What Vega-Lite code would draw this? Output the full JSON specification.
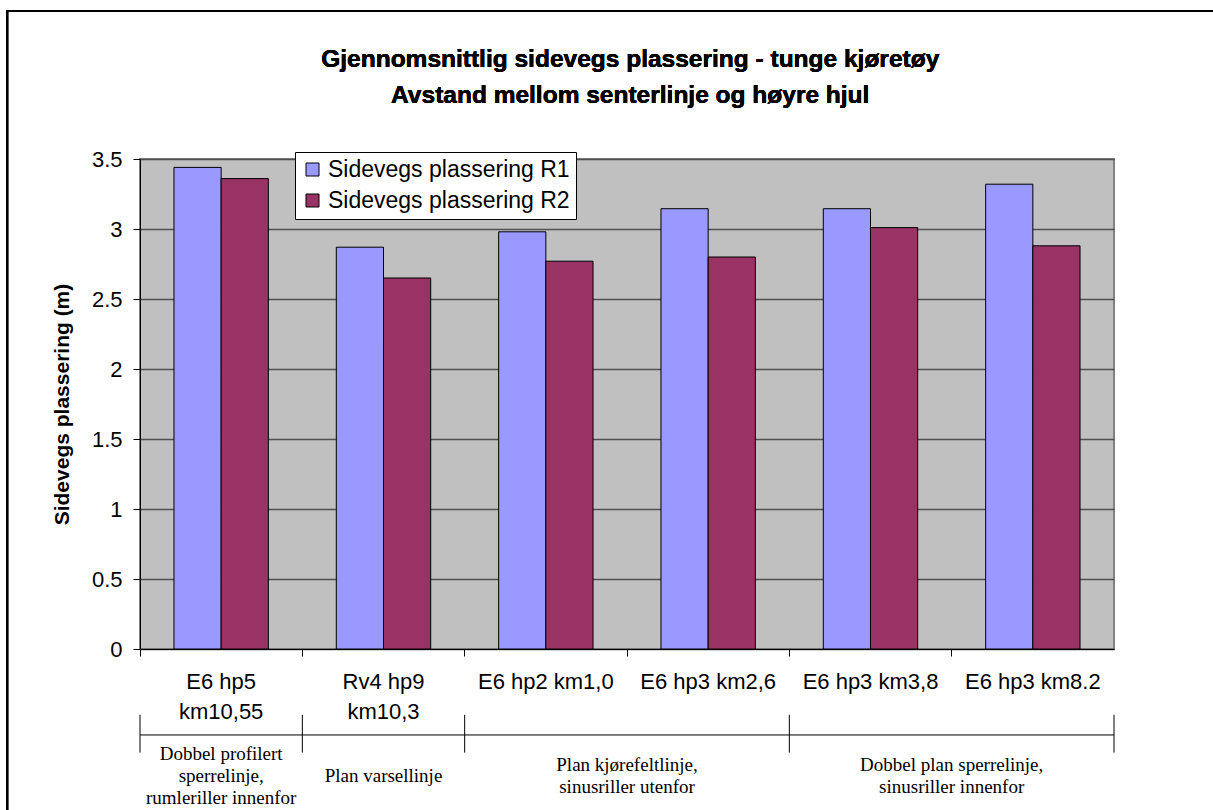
{
  "$schema": "https://vega.github.io/schema/vega-lite/v6.json",
  "width": 974,
  "height": 490,
  "autosize": "none",
  "padding": {"left": 140, "top": 159, "right": 99, "bottom": 161},
  "background": "white",
  "config": {
    "view": {"fill": "#C0C0C0", "stroke": "#808080", "strokeWidth": 2},
    "font": "Liberation Sans"
  },
  "layer": [
    {
      "data": {
        "values": [
          {"site": "E6 hp5|km10,55", "series": "Sidevegs plassering R1", "value": 3.44},
          {"site": "E6 hp5|km10,55", "series": "Sidevegs plassering R2", "value": 3.36},
          {"site": "Rv4 hp9|km10,3", "series": "Sidevegs plassering R1", "value": 2.87},
          {"site": "Rv4 hp9|km10,3", "series": "Sidevegs plassering R2", "value": 2.65},
          {"site": "E6 hp2 km1,0", "series": "Sidevegs plassering R1", "value": 2.98},
          {"site": "E6 hp2 km1,0", "series": "Sidevegs plassering R2", "value": 2.77},
          {"site": "E6 hp3 km2,6", "series": "Sidevegs plassering R1", "value": 3.145},
          {"site": "E6 hp3 km2,6", "series": "Sidevegs plassering R2", "value": 2.80},
          {"site": "E6 hp3 km3,8", "series": "Sidevegs plassering R1", "value": 3.145},
          {"site": "E6 hp3 km3,8", "series": "Sidevegs plassering R2", "value": 3.01},
          {"site": "E6 hp3 km8.2", "series": "Sidevegs plassering R1", "value": 3.32},
          {"site": "E6 hp3 km8.2", "series": "Sidevegs plassering R2", "value": 2.88}
        ]
      },
      "mark": {"type": "bar", "stroke": "black", "strokeWidth": 1},
      "encoding": {
        "x": {
          "field": "site",
          "type": "nominal",
          "sort": null,
          "scale": {"paddingInner": 0, "paddingOuter": 0},
          "axis": {
            "title": null,
            "bandPosition": 0,
            "labelExpr": "split(datum.label, '|')",
            "labelAngle": 0,
            "labelFontSize": 22,
            "labelColor": "black",
            "labelBaseline": "top",
            "labelLineHeight": 30,
            "labelPadding": 15,
            "labelFont": "Liberation Sans",
            "tickSize": 7,
            "tickColor": "black",
            "domainColor": "black",
            "grid": false
          }
        },
        "xOffset": {
          "field": "series",
          "type": "nominal",
          "scale": {"paddingInner": 0, "paddingOuter": 0.72}
        },
        "y": {
          "field": "value",
          "type": "quantitative",
          "scale": {"domain": [0, 3.5], "nice": false},
          "axis": {
            "title": "Sidevegs plassering (m)",
            "titleFontSize": 21,
            "titleFont": "Liberation Sans",
            "titleFontWeight": "bold",
            "titleColor": "black",
            "titlePadding": 19,
            "values": [0, 0.5, 1, 1.5, 2, 2.5, 3, 3.5],
            "format": "~g",
            "labelFontSize": 22,
            "labelColor": "black",
            "labelPadding": 11,
            "tickSize": 7,
            "tickColor": "black",
            "domainColor": "black",
            "grid": true,
            "gridColor": "#505050",
            "gridWidth": 1.5
          }
        },
        "color": {
          "field": "series",
          "type": "nominal",
          "scale": {"range": ["#9999FF", "#993366"]},
          "legend": {
            "title": null,
            "orient": "none",
            "legendX": 155,
            "legendY": -7,
            "fillColor": "white",
            "strokeColor": "black",
            "padding": 6,
            "symbolType": "square",
            "symbolSize": 169,
            "symbolStrokeColor": "black",
            "symbolStrokeWidth": 1,
            "symbolOpacity": 1,
            "labelFontSize": 23,
            "labelColor": "black",
            "labelFont": "Liberation Sans",
            "labelOffset": 4,
            "rowPadding": 7,
            "labelLimit": 400
          }
        }
      }
    },
    {
      "data": {
        "values": [
          {"start": 0, "end": 1, "label": ["Dobbel profilert", "sperrelinje,", "rumleriller innenfor"]},
          {"start": 1, "end": 2, "label": ["Plan varsellinje"]},
          {"start": 2, "end": 4, "label": ["Plan kjørefeltlinje,", "sinusriller utenfor"]},
          {"start": 4, "end": 6, "label": ["Dobbel plan sperrelinje,", "sinusriller innenfor"]}
        ]
      },
      "layer": [
        {
          "mark": {"type": "rule", "color": "black", "strokeWidth": 1},
          "encoding": {
            "x": {"field": "start", "type": "quantitative", "scale": {"domain": [0, 6], "nice": false, "zero": false}, "axis": null},
            "x2": {"field": "end"},
            "y": {"datum": -0.614, "scale": {"domain": [0, 3.5], "nice": false}}
          }
        },
        {
          "mark": {"type": "rule", "color": "black", "strokeWidth": 1},
          "encoding": {
            "x": {"field": "start", "type": "quantitative", "scale": {"domain": [0, 6], "nice": false, "zero": false}, "axis": null},
            "y": {"datum": -0.47, "scale": {"domain": [0, 3.5], "nice": false}},
            "y2": {"datum": -0.74}
          }
        },
        {
          "mark": {"type": "rule", "color": "black", "strokeWidth": 1},
          "transform": [{"filter": "datum.end == 6"}],
          "encoding": {
            "x": {"field": "end", "type": "quantitative", "scale": {"domain": [0, 6], "nice": false, "zero": false}, "axis": null},
            "y": {"datum": -0.47, "scale": {"domain": [0, 3.5], "nice": false}},
            "y2": {"datum": -0.74}
          }
        },
        {
          "transform": [
            {"calculate": "(datum.start + datum.end) / 2", "as": "mid"},
            {"calculate": "-0.907 + (length(datum.label) - 1) * 11 / 140", "as": "ypos"}
          ],
          "mark": {"type": "text", "font": "Liberation Serif", "fontSize": 19, "color": "black", "baseline": "middle", "align": "center", "lineHeight": 22},
          "encoding": {
            "x": {"field": "mid", "type": "quantitative", "scale": {"domain": [0, 6], "nice": false, "zero": false}, "axis": null},
            "y": {"field": "ypos", "type": "quantitative", "scale": {"domain": [0, 3.5], "nice": false}},
            "text": {"field": "label"}
          }
        },
        {
          "mark": {"type": "text", "font": "Liberation Sans", "fontSize": 24.5, "fontWeight": "bold", "color": "black", "baseline": "middle", "align": "center", "lineHeight": 36},
          "encoding": {
            "x": {"datum": 3.02, "type": "quantitative", "scale": {"domain": [0, 6], "nice": false, "zero": false}},
            "y": {"datum": 4.207, "scale": {"domain": [0, 3.5], "nice": false}},
            "text": {"value": ["Gjennomsnittlig sidevegs plassering - tunge kjøretøy", "Avstand mellom senterlinje og høyre hjul"]}
          }
        },
        {
          "mark": {"type": "rect", "fill": null, "stroke": "black", "strokeWidth": 2},
          "encoding": {
            "x": {"datum": -0.818, "type": "quantitative", "scale": {"domain": [0, 6], "nice": false, "zero": false}},
            "x2": {"datum": 7.2},
            "y": {"datum": 4.557, "scale": {"domain": [0, 3.5], "nice": false}},
            "y2": {"datum": -1.6}
          }
        }
      ]
    }
  ],
  "resolve": {"scale": {"x": "independent"}}
}
